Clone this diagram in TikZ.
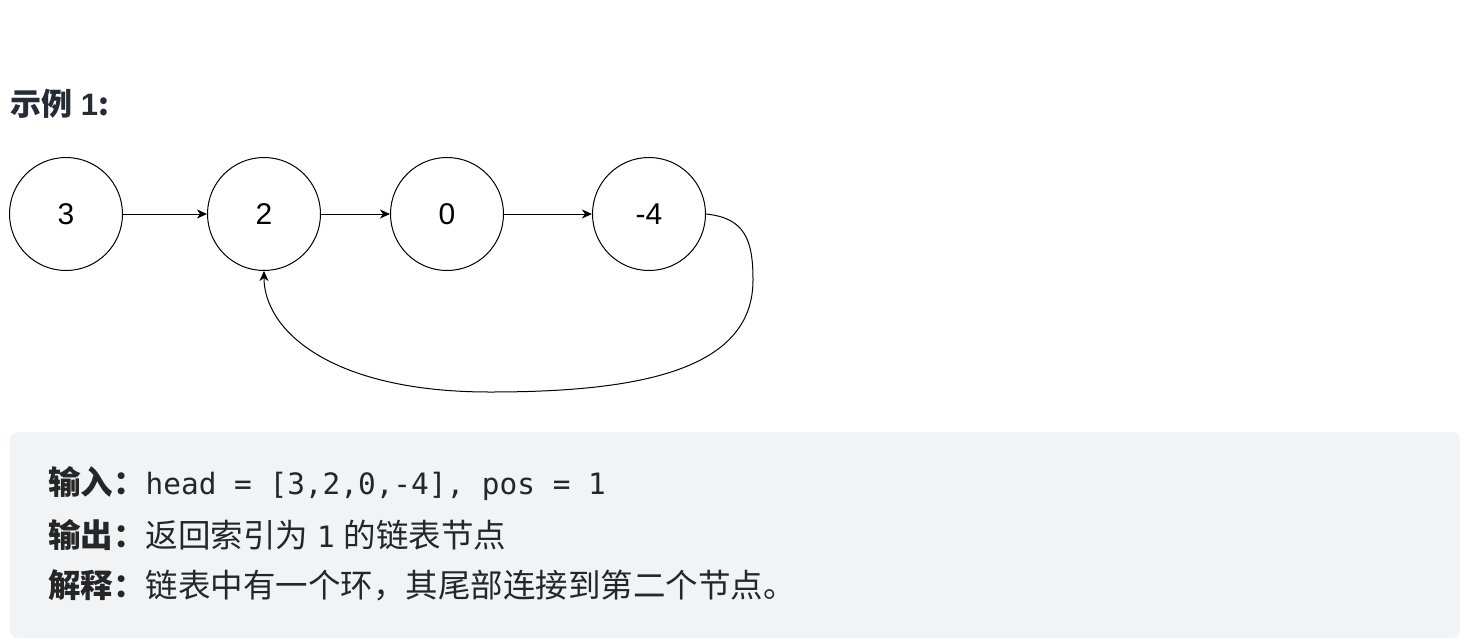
\documentclass[tikz,border=0pt]{standalone}
\usepackage{fontspec}
\setmainfont{Liberation Sans}
\setmonofont{DejaVu Sans Mono}
\newfontfamily\cjk{Noto Sans CJK SC}
\usetikzlibrary{arrows.meta,positioning}
\definecolor{panelgray}{HTML}{F2F3F5}
\definecolor{titleink}{HTML}{262C36}
\definecolor{bodyink}{HTML}{262626}
\newcommand{\code}[1]{{\fontsize{29.4}{36}\selectfont\ttfamily #1}}
\begin{document}
\begin{tikzpicture}[x=1pt,y=-1pt]
\tikzset{cell/.style={draw,circle,line width=1pt,
                      minimum size=113pt,inner sep=0pt,
                      font=\fontsize{30}{36}\selectfont},
         link/.style={line width=1pt,-{Stealth[length=10pt,width=9pt,inset=3pt]}},
         panel/.style={fill=panelgray,rounded corners=8pt,
                       minimum width=1450pt,minimum height=206pt},
         line/.style={anchor=west,inner sep=0pt,text=bodyink,
                      font=\fontsize{32.5}{38}\selectfont}
}
\useasboundingbox (0,0) rectangle (1477,643);
\node[anchor=west,inner sep=0pt,text=titleink,font=\fontsize{31}{36}\selectfont\bfseries]
     (title) at (10,104) {{\cjk 示例} 1{\cjk :}};
\node[cell] (n3) at (66,214) {3};
\node[cell,right of=n3,node distance=190pt,xshift=8pt]   (n2) {2};
\node[cell,right of=n2,node distance=190pt,xshift=-7pt]  (n0) {0};
\node[cell,right of=n0,node distance=190pt,xshift=12pt]  (n4) {-4};
\draw[link] (n3) -- (n2);
\draw[link] (n2) -- (n0);
\draw[link] (n0) -- (n4);
\draw[link] (n4.east) .. controls (745,218) and (753,240) .. (753,280)
                      .. controls (753,370) and (640,392) .. (490,392)
                      .. controls (330,392) and (264,330) .. (n2.south);
\node[panel] (box) at (735,535) {};
\node[line] (in)  at (48,484) {{\cjk\bfseries 输入：}\code{head = [3,2,0,-4], pos = 1}};
\node[line] (out) at (48,535) {{\cjk\bfseries 输出：}{\cjk 返回索引为} \code{1} {\cjk 的链表节点}};
\node[line] (why) at (48,585) {{\cjk\bfseries 解释：}{\cjk 链表中有一个环，其尾部连接到第二个节点。}};
\end{tikzpicture}
\end{document}
